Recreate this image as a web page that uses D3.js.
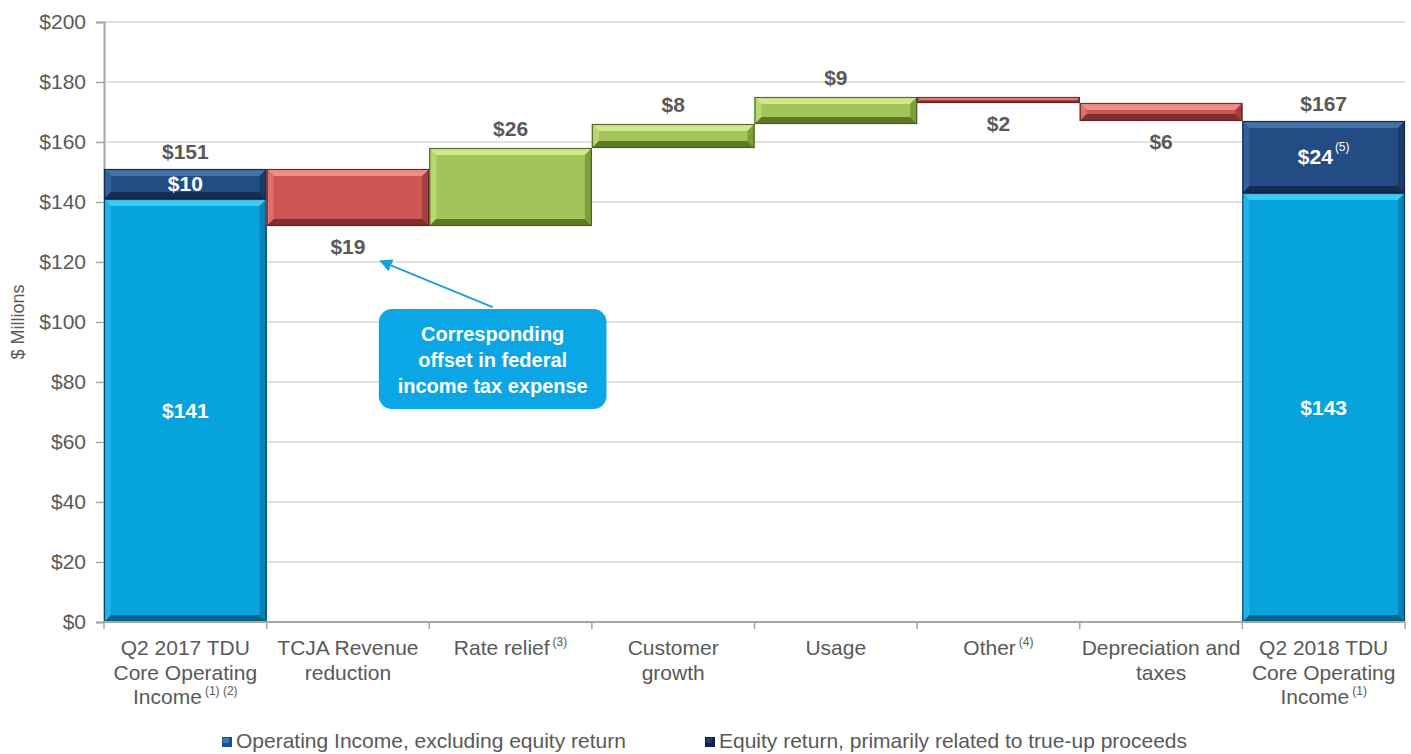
<!DOCTYPE html>
<html><head><meta charset="utf-8">
<script src="https://cdn.jsdelivr.net/npm/d3@7"></script>
<style>
html,body{margin:0;padding:0;background:#fff;}
svg text{font-family:"Liberation Sans",Arial,sans-serif;}
</style></head>
<body><svg id="c" width="1411" height="754"></svg>
<script>
// ---- data ----
const categories = ["Q2 2017 TDU|Core Operating|Income", "TCJA Revenue|reduction", "Rate relief", "Customer|growth", "Usage", "Other", "Depreciation and|taxes", "Q2 2018 TDU|Core Operating|Income"];
const categoryNotes = ["(1) (2)", "", "(3)", "", "", "(4)", "", "(1)"];
const baseValues = [141, null, null, null, null, null, null, 143];   // Operating Income, excluding equity return
const equityValues = [10, null, null, null, null, null, null, 24];   // Equity return
const equityNotes = ["", "", "", "", "", "", "", "(5)"];
const changes = [null, -19, 26, 8, 9, -2, -6, null];
const yTicks = [0, 20, 40, 60, 80, 100, 120, 140, 160, 180, 200];
const legendLabels = ["Operating Income, excluding equity return", "Equity return, primarily related to true-up proceeds"];
const calloutLines = ["Corresponding", "offset in federal", "income tax expense"];

// ---- setup ----
const svg = d3.select("#c");
const M = {l:104, r:1405, t:22, b:622};
const x = d3.scaleBand().domain(categories).range([M.l, M.r]).padding(0);
const y = d3.scaleLinear().domain([0, 200]).range([M.b, M.t]);
const bw = x.bandwidth();
const txtCol = "#595959";
const FS = 21;

// gridlines
svg.append("g").selectAll("line").data(yTicks.filter(d=>d>0)).join("line")
  .attr("x1", M.l).attr("x2", M.r).attr("y1", d=>y(d)).attr("y2", d=>y(d))
  .attr("stroke", "#d9d9d9").attr("stroke-width", 1.3);

// y axis
const yAxis = svg.append("g").attr("transform", `translate(${M.l},0)`)
  .call(d3.axisLeft(y).tickValues(yTicks).tickFormat(d=>"$"+d).tickSize(8).tickPadding(10));
yAxis.select(".domain").attr("stroke", "#a6a6a6").attr("stroke-width", 2);
yAxis.selectAll(".tick line").attr("stroke", "#a6a6a6").attr("stroke-width", 1.5);
yAxis.selectAll(".tick text").attr("fill", txtCol).attr("font-size", FS)
  .style("font-family", '"Liberation Sans",Arial,sans-serif');

svg.append("text").attr("transform", `translate(24,${y(100)}) rotate(-90)`)
  .attr("text-anchor", "middle").attr("fill", txtCol).attr("font-size", 18).text("$ Millions");

// ---- compute waterfall segments ----
const bars = [];
const totals = [];
let running = 0;
categories.forEach((c, i) => {
  if (baseValues[i] != null) {
    bars.push({c, lo:0, hi:baseValues[i], kind:"base", label:"$"+baseValues[i], note:""});
    bars.push({c, lo:baseValues[i], hi:baseValues[i]+equityValues[i], kind:"equity", label:"$"+equityValues[i], note:equityNotes[i]});
    running = baseValues[i] + equityValues[i];
    totals.push({c, v:running});
  } else {
    const v = changes[i];
    const lo = v >= 0 ? running : running + v;
    const hi = v >= 0 ? running + v : running;
    bars.push({c, lo, hi, kind: v>=0 ? "up" : "down", label:"$"+Math.abs(v), note:""});
    running += v;
  }
});

const palette = {
  base:   {fill:"#07a3dd", top:"#3fcaf5", left:"#20b5ea", right:"#0683b4", bottom:"#05648c", edge:"#0d3550"},
  equity: {fill:"#244c84", top:"#4470ad", left:"#31609c", right:"#1b3b68", bottom:"#142d52", edge:"#0f2140"},
  up:     {fill:"#a3c45b", top:"#d2e88f", left:"#b8d671", right:"#809f3c", bottom:"#5f7a27", edge:"#45561c"},
  down:   {fill:"#cd5655", top:"#ee8e8b", left:"#dd6f6d", right:"#a33f3e", bottom:"#80302f", edge:"#521e1e"}
};

const gBars = svg.append("g");
bars.forEach(b => {
  const x0 = x(b.c), x1 = x0 + bw;
  const y0 = y(b.hi), y1 = y(b.lo);
  const h = y1 - y0;
  const p = palette[b.kind];
  const bv = Math.min(7, h / 2.5);
  const g = gBars.append("g");
  g.append("rect").attr("x", x0).attr("y", y0).attr("width", bw).attr("height", h).attr("fill", p.fill);
  const poly = pts => g.append("polygon").attr("points", pts.map(q=>q.join(",")).join(" "));
  poly([[x0,y0],[x1,y0],[x1-bv,y0+bv],[x0+bv,y0+bv]]).attr("fill", p.top);
  poly([[x0,y0],[x0+bv,y0+bv],[x0+bv,y1-bv],[x0,y1]]).attr("fill", p.left);
  poly([[x1,y0],[x1,y1],[x1-bv,y1-bv],[x1-bv,y0+bv]]).attr("fill", p.right);
  poly([[x0,y1],[x0+bv,y1-bv],[x1-bv,y1-bv],[x1,y1]]).attr("fill", p.bottom);
  g.append("rect").attr("x", x0+0.5).attr("y", y0+0.5).attr("width", bw-1).attr("height", Math.max(0,h-1))
    .attr("fill", "none").attr("stroke", p.edge).attr("stroke-width", 1.2).attr("stroke-opacity", 0.85);
});

// x axis
const xAxisG = svg.append("g");
xAxisG.append("line").attr("x1", M.l).attr("x2", M.r).attr("y1", y(0)).attr("y2", y(0))
  .attr("stroke", "#a6a6a6").attr("stroke-width", 2);
xAxisG.selectAll("line.tk").data(categories.map(c=>x(c)).concat([M.r])).join("line").attr("class","tk")
  .attr("x1", d=>d).attr("x2", d=>d).attr("y1", y(0)).attr("y2", y(0)+7)
  .attr("stroke", "#a6a6a6").attr("stroke-width", 1.5);

categories.forEach((c, i) => {
  const lines = c.split("|");
  const t = svg.append("text").attr("text-anchor", "middle").attr("fill", txtCol).attr("font-size", FS)
    .attr("x", x(c) + bw/2).attr("y", y(0) + 33);
  lines.forEach((ln, j) => {
    t.append("tspan").attr("x", x(c) + bw/2).attr("dy", j===0 ? 0 : 24.5).text(ln);
    if (j === lines.length-1 && categoryNotes[i]) {
      t.append("tspan").attr("font-size", 12).attr("dy", -9).attr("dx", 3).text(categoryNotes[i]);
      t.append("tspan").attr("font-size", FS).attr("dy", 9).text("");
    }
  });
});

// ---- value labels ----
const gLab = svg.append("g").attr("font-weight", "bold").attr("font-size", FS).attr("text-anchor", "middle");
bars.forEach(b => {
  const cx = x(b.c) + bw/2;
  if (b.kind === "base" || b.kind === "equity") {
    const t = gLab.append("text").attr("x", cx).attr("y", (y(b.hi)+y(b.lo))/2 + 7).attr("fill", "#fff").text(b.label);
    if (b.note) t.append("tspan").attr("font-size", 12).attr("font-weight", "normal").attr("dy", -13).attr("dx", 2).text(b.note);
  } else if (b.kind === "up") {
    gLab.append("text").attr("x", cx).attr("y", y(b.hi) - 12).attr("fill", txtCol).text(b.label);
  } else {
    gLab.append("text").attr("x", cx).attr("y", y(b.lo) + 28).attr("fill", txtCol).text(b.label);
  }
});
totals.forEach(tt => {
  gLab.append("text").attr("x", x(tt.c) + bw/2).attr("y", y(tt.v) - 10).attr("fill", txtCol).text("$"+tt.v);
});

// ---- callout ----
const cb = {x0: x(categories[1]) + bw*0.69, x1: x(categories[2]) + bw*1.09, y0: y(104.3), y1: y(71)};
const tip = [x(categories[1]) + bw*0.70, y(120.3)];
const from = [(cb.x0+cb.x1)/2, cb.y0 - 2];
svg.append("defs").append("marker").attr("id","ah").attr("viewBox","0 0 10 10").attr("refX",9).attr("refY",5)
  .attr("markerWidth",7).attr("markerHeight",7).attr("orient","auto")
  .append("path").attr("d","M0,0 L10,5 L0,10 z").attr("fill","#1aa0d8");
svg.append("line").attr("x1", from[0]).attr("y1", from[1]).attr("x2", tip[0]).attr("y2", tip[1])
  .attr("stroke", "#1aa0d8").attr("stroke-width", 1.8).attr("marker-end", "url(#ah)");
svg.append("rect").attr("x", cb.x0).attr("y", cb.y0).attr("width", cb.x1-cb.x0).attr("height", cb.y1-cb.y0)
  .attr("rx", 13).attr("fill", "#0ba6e5");
const ct = svg.append("text").attr("text-anchor", "middle").attr("fill", "#fff").attr("font-weight", "bold").attr("font-size", 20);
calloutLines.forEach((ln, i) => ct.append("tspan").attr("x", (cb.x0+cb.x1)/2).attr("y", cb.y0 + 32 + i*26).text(ln));

// ---- legend ----
const legCols = [["#3a78c0","#1d4d8a"], ["#1d3e6e","#0d2345"]];
const legX = [222, 705];
legendLabels.forEach((lab, i) => {
  const g = svg.append("g").attr("transform", `translate(${legX[i]},737)`);
  g.append("rect").attr("width", 10).attr("height", 10).attr("fill", legCols[i][1]);
  g.append("rect").attr("x", 1).attr("y", 1).attr("width", 6).attr("height", 5).attr("fill", legCols[i][0]);
  g.append("text").attr("x", 14).attr("y", 11).attr("fill", txtCol).attr("font-size", FS).text(lab);
});
</script></body></html>
